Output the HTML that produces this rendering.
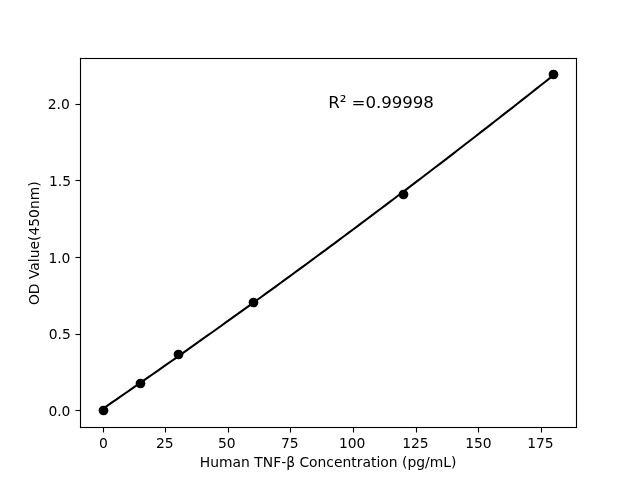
<!DOCTYPE html>
<html lang="en"><head><meta charset="utf-8"><title>Human TNF-β standard curve</title>
<style>html,body{margin:0;padding:0;background:#fff}body{width:640px;height:480px;overflow:hidden}svg{display:block}text{font-family:'DejaVu Sans','Liberation Sans',sans-serif;fill:#000}.t{font-size:13.889px}.r{font-size:16.667px}</style></head><body>
<svg width="640" height="480" viewBox="0 0 640 480">
<rect width="640" height="480" fill="#fff"/>
<polyline points="102.545,408.964 107.100,405.833 111.655,402.698 116.209,399.558 120.764,396.413 125.319,393.263 129.873,390.108 134.428,386.948 138.983,383.783 143.537,380.613 148.092,377.439 152.646,374.259 157.201,371.075 161.756,367.886 166.310,364.691 170.865,361.492 175.420,358.288 179.974,355.079 184.529,351.865 189.084,348.647 193.638,345.423 198.193,342.194 202.747,338.961 207.302,335.723 211.857,332.479 216.411,329.231 220.966,325.978 225.521,322.720 230.075,319.457 234.630,316.189 239.185,312.916 243.739,309.638 248.294,306.356 252.848,303.068 257.403,299.776 261.958,296.479 266.512,293.176 271.067,289.869 275.622,286.557 280.176,283.240 284.731,279.918 289.286,276.591 293.840,273.260 298.395,269.923 302.949,266.581 307.504,263.235 312.059,259.884 316.613,256.527 321.168,253.166 325.723,249.800 330.277,246.429 334.832,243.053 339.387,239.672 343.941,236.287 348.496,232.896 353.051,229.501 357.605,226.100 362.160,222.695 366.714,219.284 371.269,215.869 375.824,212.449 380.378,209.024 384.933,205.594 389.488,202.159 394.042,198.720 398.597,195.275 403.152,191.825 407.706,188.371 412.261,184.912 416.815,181.447 421.370,177.978 425.925,174.504 430.479,171.025 435.034,167.541 439.589,164.052 444.143,160.558 448.698,157.060 453.253,153.556 457.807,150.048 462.362,146.534 466.916,143.016 471.471,139.493 476.026,135.965 480.580,132.432 485.135,128.894 489.690,125.351 494.244,121.803 498.799,118.250 503.354,114.693 507.908,111.130 512.463,107.563 517.017,103.990 521.572,100.413 526.127,96.831 530.681,93.244 535.236,89.652 539.791,86.055 544.345,82.453 548.900,78.847 553.455,75.235" fill="none" stroke="#000" stroke-width="2.083" stroke-linecap="square" stroke-linejoin="round"/>
<circle cx="103.5" cy="410.5" r="4.86" fill="#000"/>
<circle cx="140.5" cy="383.5" r="4.86" fill="#000"/>
<circle cx="178.5" cy="354.5" r="4.86" fill="#000"/>
<circle cx="253.5" cy="302.5" r="4.86" fill="#000"/>
<circle cx="403.5" cy="194.5" r="4.86" fill="#000"/>
<circle cx="553.5" cy="74.5" r="4.86" fill="#000"/>
<g fill="#000">
<rect x="79.945" y="57.944" width="1.111" height="370.111"/>
<rect x="575.944" y="57.944" width="1.111" height="370.111"/>
<rect x="79.945" y="57.944" width="497.111" height="1.111"/>
<rect x="79.945" y="426.945" width="497.111" height="1.111"/>
<rect x="102.945" y="427.500" width="1.111" height="5.000"/>
<rect x="164.945" y="427.500" width="1.111" height="5.000"/>
<rect x="227.945" y="427.500" width="1.111" height="5.000"/>
<rect x="289.945" y="427.500" width="1.111" height="5.000"/>
<rect x="352.945" y="427.500" width="1.111" height="5.000"/>
<rect x="415.945" y="427.500" width="1.111" height="5.000"/>
<rect x="477.945" y="427.500" width="1.111" height="5.000"/>
<rect x="540.944" y="427.500" width="1.111" height="5.000"/>
<rect x="75.500" y="409.945" width="5.000" height="1.111"/>
<rect x="75.500" y="333.945" width="5.000" height="1.111"/>
<rect x="75.500" y="256.945" width="5.000" height="1.111"/>
<rect x="75.500" y="179.945" width="5.000" height="1.111"/>
<rect x="75.500" y="103.945" width="5.000" height="1.111"/>
</g>
<text class="t" text-anchor="middle" x="103.34" y="447.58">0</text>
<text class="t" text-anchor="middle" x="164.78" y="447.58">25</text>
<text class="t" text-anchor="middle" x="226.71" y="447.58">50</text>
<text class="t" text-anchor="middle" x="289.76" y="447.58">75</text>
<text class="t" text-anchor="middle" x="352.14" y="447.58">100</text>
<text class="t" text-anchor="middle" x="415.43" y="447.58">125</text>
<text class="t" text-anchor="middle" x="478.46" y="447.58">150</text>
<text class="t" text-anchor="middle" x="540.40" y="447.58">175</text>
<text class="t" text-anchor="end" x="70.46" y="416.00">0.0</text>
<text class="t" text-anchor="end" x="70.77" y="339.00">0.5</text>
<text class="t" text-anchor="end" x="70.46" y="263.00">1.0</text>
<text class="t" text-anchor="end" x="71.00" y="186.00">1.5</text>
<text class="t" text-anchor="end" x="69.79" y="109.00">2.0</text>
<text class="t" text-anchor="middle" x="328.1" y="466.64">Human TNF-β Concentration (pg/mL)</text>
<text class="t" text-anchor="middle" transform="translate(38.76 243.2) rotate(-90)">OD Value(450nm)</text>
<text class="r" x="328.30" y="108.00" textLength="105.5" lengthAdjust="spacing">R² =0.99998</text>
</svg></body></html>
